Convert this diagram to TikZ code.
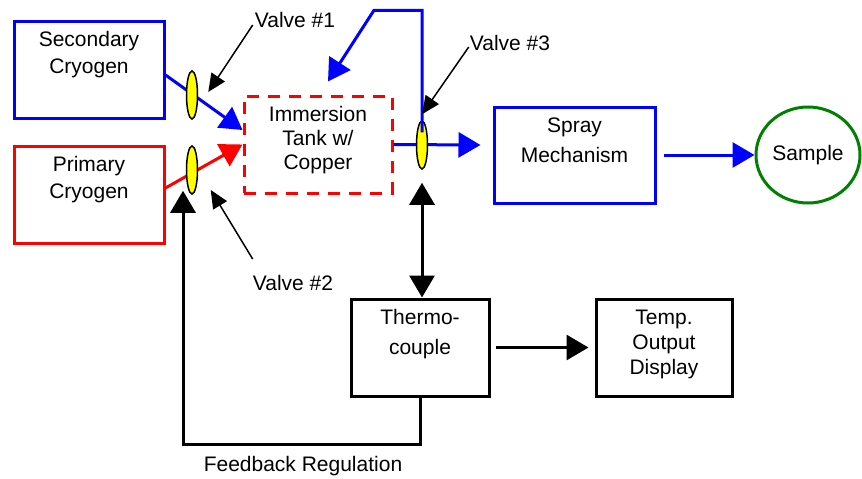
\documentclass[tikz,border=0pt]{standalone}
\usepackage{fontspec}
\setmainfont{Liberation Sans}
\usetikzlibrary{arrows.meta,positioning,shapes.geometric}

\definecolor{flowblue}{RGB}{0,0,255}
\definecolor{flowred}{RGB}{255,0,0}
\definecolor{samplegreen}{RGB}{0,128,0}
\definecolor{valveyellow}{RGB}{255,255,0}

\begin{document}
\begin{tikzpicture}[
  x=1pt, y=-1pt,
  box/.style={
    draw,
    line width=3pt,
    minimum height=97pt,
    inner sep=0pt
  },
  bluebox/.style={box, draw=flowblue},
  redbox/.style={box, draw=flowred},
  tankbox/.style={
    box,
    draw=flowred,
    dash pattern=on 12pt off 9pt
  },
  boxtext/.style={
    inner sep=0pt,
    align=center,
    font=\fontsize{21}{27}\selectfont
  },
  labeltext/.style={
    inner sep=0pt,
    font=\fontsize{21}{24}\selectfont
  },
  valve/.style={
    ellipse,
    draw=black,
    fill=valveyellow,
    line width=1.5pt,
    minimum width=11pt,
    minimum height=48pt,
    inner sep=0pt
  },
  flow/.style={
    line width=3pt,
    -{Triangle[length=22pt,width=25pt]}
  },
  blueflow/.style={flow, flowblue},
  redflow/.style={flow, flowred},
  pointer/.style={
    line width=1.5pt,
    -{Triangle[length=18pt,width=16pt]}
  }
]
\useasboundingbox (0,0) rectangle (862,479);

% Supply boxes
\node[bluebox, minimum width=150pt] (sec) at (89,69.5) {};
\node[boxtext, below=12pt of sec.north] {Secondary\\Cryogen};

\node[redbox, minimum width=150pt] (prim) at (89,194.5) {};
\node[boxtext, below=12pt of prim.north] {Primary\\Cryogen};

% Tank and spray
\node[tankbox, minimum width=148pt] (tank) at (318,144.5) {};
\node[boxtext, below=12pt of tank.north,
  font=\fontsize{21}{24}\selectfont] {Immersion\\Tank w/\\Copper};

\node[bluebox, minimum width=161pt, minimum height=96pt] (spray) at (574.5,155) {};
\node[boxtext, below=12pt of spray.north,
  font=\fontsize{21}{30}\selectfont] {Spray\\Mechanism};

\node[
  ellipse,
  draw=samplegreen,
  line width=3pt,
  minimum width=104pt,
  minimum height=96pt,
  inner sep=0pt,
  font=\fontsize{21}{24}\selectfont
] (sample) at (808,155) {Sample};

% Measurement
\node[box, minimum width=138pt] (thermo) at (420,347.5) {};
\node[boxtext, below=12pt of thermo.north,
  font=\fontsize{21}{30}\selectfont] {Thermo-\\couple};

\node[box, minimum width=136pt] (temp) at (664,347.5) {};
\node[boxtext, below=12pt of temp.north,
  font=\fontsize{21}{25}\selectfont] {Temp.\\Output\\Display};

% Cryogen flow
\draw[blueflow]
  ([yshift=-5.5pt]sec.east) -- ([yshift=14.5pt]tank.west);

\draw[redflow]
  ([yshift=6.5pt]prim.east) -- (tank.west);

\draw[blueflow]
  (tank.east) -- ([xshift=-12pt,yshift=10pt]spray.west);

\draw[blueflow]
  ([xshift=7pt]spray.east) -- (sample.west);

% Valves
\node[valve] (v1) at (192,95) {};
\node[valve] (v2) at (192,170) {};
\node[valve] (v3) at (422,145) {};

% Return line into the tank
\draw[blueflow]
  ([yshift=-12pt]v3.north)
  -- ++(0,-122)
  -- ++(-48,0)
  -- ([xshift=10pt,yshift=13pt]tank.north);

% Temperature loop
\draw[
  line width=3pt,
  {Triangle[length=22pt,width=25pt]}-{Triangle[length=22pt,width=25pt]}
]
  ([yshift=-13pt]v3.south) -- (v3.south |- thermo.north);

\draw[flow]
  ([xshift=5pt]thermo.east) -- ([xshift=-6pt]temp.west);

\draw[flow]
  (thermo.south)
  -- ++(0,47)
  -| ([xshift=-9pt,yshift=4pt]v2.south);

\node[labeltext] (fb) at (303,466) {Feedback Regulation};

% Valve labels
\node[labeltext] (vl1) at (295,20) {Valve \#1};
\draw[pointer]
  ([xshift=-2pt,yshift=-5pt]vl1.west) -- ([xshift=10pt,yshift=3pt]v1.east);

\node[labeltext] (vl2) at (293,283) {Valve \#2};
\draw[pointer]
  ([yshift=16pt]vl2.north west) -- ([xshift=12.5pt,yshift=-20pt]v2.east);

\node[labeltext] (vl3) at (510,43) {Valve \#3};
\draw[pointer]
  ([xshift=-1pt,yshift=-4pt]vl3.west) -- ([yshift=6pt]v3.north);

\end{tikzpicture}
\end{document}
